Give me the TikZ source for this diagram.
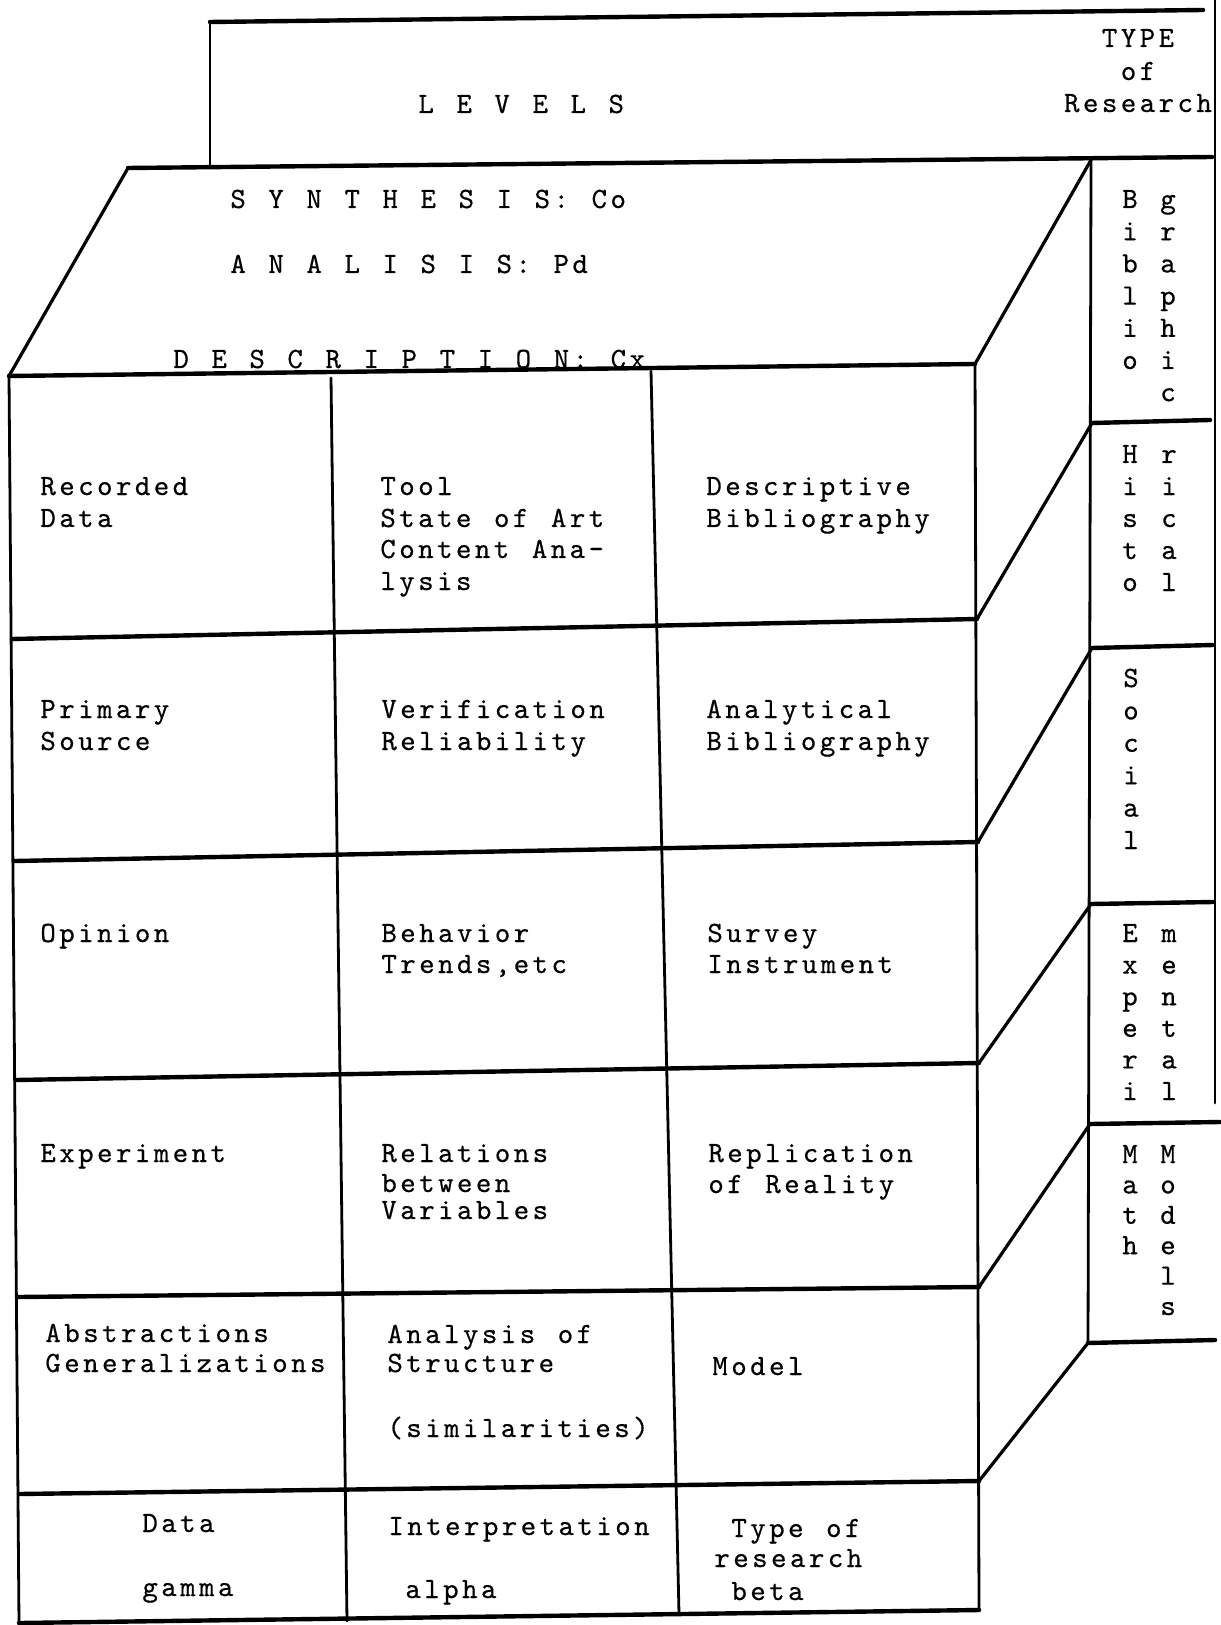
\documentclass[tikz,border=0pt]{standalone}
\usepackage{fontspec}
\newfontfamily\twfam{lmmono10-regular.otf}[LetterSpace=11.8, FakeBold=0.5]
\newcommand\typew{\twfam\fontsize{14.7}{17}\selectfont}
\newcommand\sq{\kern11.3pt}
\tikzset{
  hline/.style={line width=2.2pt, line cap=round},
  vline/.style={line width=1.4pt, line cap=round},
  dline/.style={line width=1.6pt, line cap=round},
  txt/.style={anchor=base west, inner sep=0pt, font=\typew},
  ctxt/.style={anchor=base, inner sep=0pt, font=\typew},
}
\begin{document}
\begin{tikzpicture}[x=0.5pt, y=-0.5pt]
\useasboundingbox (0,0) rectangle (1220,1625);
% ---------- corner coordinates ----------
\coordinate (bTL) at (210,22);
\coordinate (bTR) at (1203,10);
\coordinate (bBL) at (210,167);
\coordinate (tBL) at (128,168);
\coordinate (tBR) at (1212,157);
\coordinate (tTR) at (1091,160);
% front row line ends (left / right)
\coordinate (L0) at (9,376);    \coordinate (R0) at (975,364);
\coordinate (L1) at (12,639);   \coordinate (R1) at (977,619);
\coordinate (L2) at (15,861);   \coordinate (R2) at (978,842);
\coordinate (L3) at (16,1080);  \coordinate (R3) at (979,1063);
\coordinate (L4) at (18,1297);  \coordinate (R4) at (979,1287);
\coordinate (L5) at (19,1494);  \coordinate (R5) at (979,1481);
\coordinate (L6) at (19,1623);  \coordinate (R6) at (979,1610);
% column lines
\coordinate (C1t) at (331,378); \coordinate (C1b) at (347,1621);
\coordinate (C2t) at (651,371); \coordinate (C2b) at (679,1614);
% right column
\coordinate (S0) at (1091,160);  \coordinate (E0) at (1212,157);
\coordinate (S1) at (1092,423);  \coordinate (E1) at (1210,420);
\coordinate (S2) at (1092,648);  \coordinate (E2) at (1213,645);
\coordinate (S3) at (1091,904);  \coordinate (E3) at (1213,902);
\coordinate (S4) at (1090,1124); \coordinate (E4) at (1220,1122);
\coordinate (S5) at (1088,1343); \coordinate (E5) at (1215,1340);
\coordinate (OVt) at (1215,0);   \coordinate (OVb) at (1215,1103);

% ---------- back panel ----------
\draw[hline] (bTL) -- (bTR);
\draw[vline] (bTL) -- (bBL);
\draw[hline] (tBL) -- (tBR);
\draw[vline] (OVt) -- (OVb);

% ---------- top face ----------
\draw[dline] (tBL) -- (L0);
\draw[dline] (R0) -- (tTR);

% ---------- front grid ----------
\foreach \i in {0,...,6} \draw[hline] (L\i) -- (R\i);
\draw[vline] (L0) -- (L6);
\draw[vline] (C1t) -- (C1b);
\draw[vline] (C2t) -- (C2b);
\draw[vline] (R0) -- (R6);

% ---------- side connectors ----------
\foreach \i in {1,...,5} \draw[dline] (R\i) -- (S\i);
\draw[vline] (S0) -- (S5);
\foreach \i in {1,...,5} \draw[hline] (S\i) -- (E\i);

% ---------- header texts ----------
\node[txt] (levels) at (418,113) {L\sq E\sq V\sq E\sq L\sq S};
\node[ctxt] (typeA) at (1138,47) {TYPE};
\node[ctxt] (typeB) at (1138,80) {of};
\node[ctxt] (typeC) at (1138,112) {Research};
\node[txt] (synth) at (230,208) {S\sq Y\sq N\sq T\sq H\sq E\sq S\sq I\sq S:\sq Co};
\node[txt] (anal) at (230,273) {A\sq N\sq A\sq L\sq I\sq S\sq I\sq S:\sq Pd};
\node[txt] (descr) at (173,368) {D\sq E\sq S\sq C\sq R\sq I\sq P\sq T\sq I\sq O\sq N:\sq Cx};

% ---------- cell texts ----------
\node[txt] (c11a) at (40,495) {Recorded};
\node[txt] (c11b) at (40,527) {Data};
\node[txt] (c12a) at (380,495) {Tool};
\node[txt] (c12b) at (380,527) {State\sq of\sq Art};
\node[txt] (c12c) at (380,558) {Content\sq Ana-};
\node[txt] (c12d) at (380,590) {lysis};
\node[txt] (c13a) at (706,495) {Descriptive};
\node[txt] (c13b) at (706,527) {Bibliography};

\node[txt] (c21a) at (40,718) {Primary};
\node[txt] (c21b) at (40,750) {Source};
\node[txt] (c22a) at (381,718) {Verification};
\node[txt] (c22b) at (381,750) {Reliability};
\node[txt] (c23a) at (706,718) {Analytical};
\node[txt] (c23b) at (706,750) {Bibliography};

\node[txt] (c31a) at (40,942) {Opinion};
\node[txt] (c32a) at (381,942) {Behavior};
\node[txt] (c32b) at (381,973) {Trends,etc};
\node[txt] (c33a) at (707,942) {Survey};
\node[txt] (c33b) at (707,973) {Instrument};

\node[txt] (c41a) at (40,1162) {Experiment};
\node[txt] (c42a) at (381,1162) {Relations};
\node[txt] (c42b) at (381,1192) {between};
\node[txt] (c42c) at (381,1219) {Variables};
\node[txt] (c43a) at (708,1162) {Replication};
\node[txt] (c43b) at (708,1193) {of\sq Reality};

\node[txt] (c51a) at (45,1342) {Abstractions};
\node[txt] (c51b) at (45,1372) {Generalizations};
\node[txt] (c52a) at (387,1343) {Analysis\sq of};
\node[txt] (c52b) at (387,1372) {Structure};
\node[txt] (c52c) at (387,1437) {(similarities)};
\node[txt] (c53a) at (712,1375) {Model};

\node[txt] (c61a) at (142,1532) {Data};
\node[txt] (c61b) at (142,1596) {gamma};
\node[txt] (c62a) at (388,1535) {Interpretation};
\node[txt] (c62b) at (405,1598) {alpha};
\node[txt] (c63a) at (731,1537) {Type\sq of};
\node[txt] (c63b) at (714,1567) {research};
\node[txt] (c63c) at (731,1600) {beta};

% ---------- vertical side labels ----------
\foreach [count=\k] \c in {B,i,b,l,i,o}
  \node[ctxt] (bibL\k) at (1130,{208+32.2*(\k-1)}) {\c};
\foreach [count=\k] \c in {g,r,a,p,h,i,c}
  \node[ctxt] (bibR\k) at (1168,{208+32.2*(\k-1)}) {\c};
\foreach [count=\k] \c in {H,i,s,t,o}
  \node[ctxt] (hisL\k) at (1130,{463+32*(\k-1)}) {\c};
\foreach [count=\k] \c in {r,i,c,a,l}
  \node[ctxt] (hisR\k) at (1169,{463+32*(\k-1)}) {\c};
\foreach [count=\k] \c in {S,o,c,i,a,l}
  \node[ctxt] (socL\k) at (1131,{687+32.4*(\k-1)}) {\c};
\foreach [count=\k] \c in {E,x,p,e,r,i}
  \node[ctxt] (expL\k) at (1130,{942+31.6*(\k-1)}) {\c};
\foreach [count=\k] \c in {m,e,n,t,a,l}
  \node[ctxt] (expR\k) at (1169,{942+31.6*(\k-1)}) {\c};
\foreach [count=\k] \c in {M,a,t,h}
  \node[ctxt] (matL\k) at (1130,{1163+30.4*(\k-1)}) {\c};
\foreach [count=\k] \c in {M,o,d,e,l,s}
  \node[ctxt] (matR\k) at (1168,{1163+30.4*(\k-1)}) {\c};
\end{tikzpicture}
\end{document}
